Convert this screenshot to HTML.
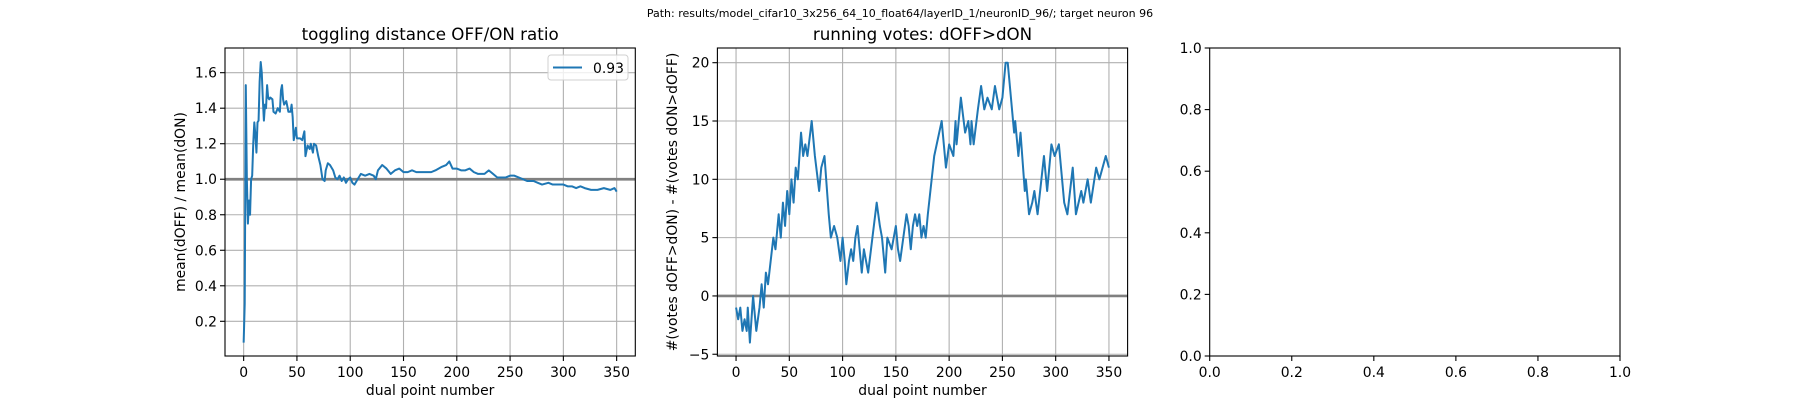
<!DOCTYPE html>
<html><head><meta charset="utf-8">
<style>
html,body{margin:0;padding:0;background:#fff;}
svg{display:block;font-family:"DejaVu Sans","Liberation Sans",sans-serif;}
</style></head>
<body>
<svg id="fig" width="1800" height="400" viewBox="0 0 1800 400" xmlns="http://www.w3.org/2000/svg">
<rect width="1800" height="400" fill="#fff"/>
<text x="900" y="17" font-size="11" text-anchor="middle">Path: results/model_cifar10_3x256_64_10_float64/layerID_1/neuronID_96/; target neuron 96</text>
<g id="ax1"></g>
<g id="ax2"></g>
<g id="ax3"></g>
</svg>
<script>
const ratioX = [0,1,2,3,4,5,6,7,8,9,10,11,12,13,14,15,16,17,18,19,20,21,22,23,24,25,27,28,30,32,34,35,36,37,38,40,42,44,45,46,47,49,50,53,55,57,58,60,62,63,65,66,68,70,72,74,76,77,79,81,84,86,88,90,92,94,96,98,100,102,104,106,110,114,118,122,124,126,130,134,138,142,146,150,154,158,162,166,170,176,180,186,190,193,196,200,204,208,212,216,220,226,230,234,238,242,246,250,254,258,262,266,272,276,280,286,290,296,300,304,308,312,316,320,326,332,338,344,348,350];
const ratioY = [0.08,0.3,1.53,1.0,0.75,0.88,0.8,1.0,1.02,1.2,1.32,1.25,1.15,1.32,1.33,1.55,1.66,1.6,1.45,1.33,1.42,1.4,1.53,1.46,1.45,1.46,1.45,1.38,1.37,1.4,1.38,1.5,1.53,1.45,1.42,1.44,1.38,1.38,1.42,1.35,1.22,1.29,1.23,1.23,1.22,1.27,1.13,1.19,1.17,1.2,1.15,1.2,1.19,1.13,1.08,1.0,0.99,1.05,1.09,1.08,1.05,1.01,1.0,1.02,0.99,1.01,0.98,1.0,1.01,0.98,0.97,0.99,1.03,1.02,1.03,1.02,1.0,1.05,1.08,1.06,1.03,1.05,1.06,1.04,1.04,1.05,1.04,1.04,1.04,1.04,1.05,1.07,1.08,1.1,1.06,1.06,1.05,1.05,1.06,1.04,1.03,1.03,1.05,1.03,1.01,1.01,1.01,1.02,1.02,1.01,1.0,0.99,0.99,0.98,0.97,0.98,0.97,0.97,0.97,0.96,0.96,0.95,0.96,0.95,0.94,0.94,0.95,0.94,0.95,0.93];
const votesX = [0,2,4,6,8,10,11,13,16,19,22,24,26,28,30,35,37,40,42,44,46,48,50,52,54,56,58,61,63,65,67,71,74,78,80,83,87,89,92,95,98,100,102,103.5,106,108,110,112,114,116,118,120,122,124,128,132,135,137,140,142,146,148,150,152,154,157,160,162,164,166,168,170,172,174,176,178,180,186,193,197,200,204,206,207,211,215,218,220,221,223,227,230,233,236,240,243,247,250,253,255,258,261,262,265,267,271,272,275,278,280,283,289,292,296,299,303,308,311,316,319,324,326,330,333,338,341,347,350];
const votesY = [-1,-2,-1,-3,-2,-3,-1,-4,0,-3,-1,1,-1,2,1,5,4,7,5,8,6,9,7,10,8,11,10,14,12,13,12,15,12,9,11,12,7,5,6,5,3,5,3,1,3,4,3,5,6,4,2,4,3,2,5,8,6,5,2,5,4,5,6,4,3,5,7,6,4,6,7,6,7,5,6,5,7,12,15,11,13,12,15,13,17,14,15,13,15,13,16,18,16,17,16,18,16,17,20,20,17,14,15,12,14,9,10,7,8,9,7,12,9,13,12,13,8,7,11,7,9,8,10,8,11,10,12,11];
const ratioYTicks = [0.2,0.4,0.6,0.8,1.0,1.2,1.4,1.6];
const votesYTicks = [-5,0,5,10,15,20];
const xTicks = [0,50,100,150,200,250,300,350];
const unitTicks = [0.0,0.2,0.4,0.6,0.8,1.0];
const legendLabel = "0.93";

const NS = "http://www.w3.org/2000/svg";
function mk(parent, tag, attrs, text){
  const e = document.createElementNS(NS, tag);
  for (const k in attrs) e.setAttribute(k, attrs[k]);
  if (text !== undefined) e.textContent = text;
  parent.appendChild(e);
  return e;
}
const TOP = 48, BOT = 356;
function scale(d0,d1,r0,r1){ return v => r0 + (v-d0)/(d1-d0)*(r1-r0); }

function axes(g, L, R, xd, yd, xt, yt, fmtX, fmtY, grid){
  const sx = scale(xd[0], xd[1], L, R), sy = scale(yd[0], yd[1], BOT, TOP);
  if (grid){
    xt.forEach(v => {
      const l = mk(g,'line',{x1:sx(v),x2:sx(v),y1:TOP,y2:BOT,stroke:'#b0b0b0','stroke-width':1.1});
      
      
    });
    yt.forEach(v => {
      const l = mk(g,'line',{x1:L,x2:R,y1:sy(v),y2:sy(v),stroke:'#b0b0b0','stroke-width':1.1});
      
      
    });
  }
  xt.forEach(v => {
    mk(g,'line',{x1:sx(v),x2:sx(v),y1:BOT,y2:BOT+5,stroke:'#000','stroke-width':1.1});
    const t = mk(g,'text',{x:sx(v),y:BOT+21,'font-size':13.9,'text-anchor':'middle'}, fmtX(v));
    
    
  });
  yt.forEach(v => {
    mk(g,'line',{x1:L-5,x2:L,y1:sy(v),y2:sy(v),stroke:'#000','stroke-width':1.1});
    const t = mk(g,'text',{x:L-8,y:sy(v)+5,'font-size':13.9,'text-anchor':'end'}, fmtY(v));
    
    
  });
  return {sx, sy};
}
function frame(g,L,R){
  const r = mk(g,'rect',{x:L,y:TOP,width:R-L,height:BOT-TOP,fill:'none',stroke:'#000','stroke-width':1.1});
  
  
}
function path(g, xs, ys, sx, sy){
  let d = '';
  xs.forEach((x,i) => { d += (i ? 'L' : 'M') + sx(x).toFixed(2) + ',' + sy(ys[i]).toFixed(2); });
  return mk(g,'path',{d:d,fill:'none',stroke:'#1f77b4','stroke-width':2,'stroke-linejoin':'round'});
}

// Chart 1
(function(){
  const g = document.getElementById('ax1');
  const L = 225, R = 635.3;
  const {sx, sy} = axes(g, L, R, [-17.5,367.5], [0.0046,1.739], xTicks, ratioYTicks, v=>String(v), v=>v.toFixed(1), true);
  const h = mk(g,'line',{x1:L,x2:R,y1:sy(1),y2:sy(1),stroke:'#808080','stroke-width':2.7});
  
  
  const p = path(g, ratioX, ratioY, sx, sy);
  
  
  frame(g,L,R);
  const t = mk(g,'text',{x:(L+R)/2,y:40,'font-size':16.7,'text-anchor':'middle'},'toggling distance OFF/ON ratio');
  
  
  const xl = mk(g,'text',{x:(L+R)/2,y:395,'font-size':13.9,'text-anchor':'middle'},'dual point number');
  
  
  const yl = mk(g,'text',{x:0,y:0,'font-size':13.9,'text-anchor':'middle',transform:'translate(185,'+((TOP+BOT)/2)+') rotate(-90)'},'mean(dOFF) / mean(dON)');
  
  
  const lg = mk(g,'g',{});
  
  
  mk(lg,'rect',{x:548,y:55,width:80,height:25,rx:3,fill:'#fff','fill-opacity':0.8,stroke:'#d0d0d0','stroke-width':1});
  mk(lg,'line',{x1:553,x2:582,y1:67.5,y2:67.5,stroke:'#1f77b4','stroke-width':2});
  const lt = mk(lg,'text',{x:593,y:73,'font-size':13.9},legendLabel);
  
  
})();

// Chart 2
(function(){
  const g = document.getElementById('ax2');
  const L = 717.4, R = 1127.6;
  const {sx, sy} = axes(g, L, R, [-17.5,367.5], [-5.15,21.26], xTicks, votesYTicks, v=>String(v), v=>(v<0?'\u2212'+(-v):String(v)), true);
  const h = mk(g,'line',{x1:L,x2:R,y1:sy(0),y2:sy(0),stroke:'#808080','stroke-width':2.7});
  
  
  const p = path(g, votesX, votesY, sx, sy);
  
  
  frame(g,L,R);
  const t = mk(g,'text',{x:(L+R)/2,y:40,'font-size':16.7,'text-anchor':'middle'},'running votes: dOFF>dON');
  
  
  const xl = mk(g,'text',{x:(L+R)/2,y:395,'font-size':13.9,'text-anchor':'middle'},'dual point number');
  
  
  const yl = mk(g,'text',{x:0,y:0,'font-size':13.9,'text-anchor':'middle',transform:'translate(677,'+((TOP+BOT)/2)+') rotate(-90)'},'#(votes dOFF>dON) - #(votes dON>dOFF)');
  
  
})();

// Chart 3 (empty)
(function(){
  const g = document.getElementById('ax3');
  const L = 1209.7, R = 1620;
  axes(g, L, R, [0,1], [0,1], unitTicks, unitTicks, v=>v.toFixed(1), v=>v.toFixed(1), false);
  frame(g,L,R);
})();
</script>
</body></html>
